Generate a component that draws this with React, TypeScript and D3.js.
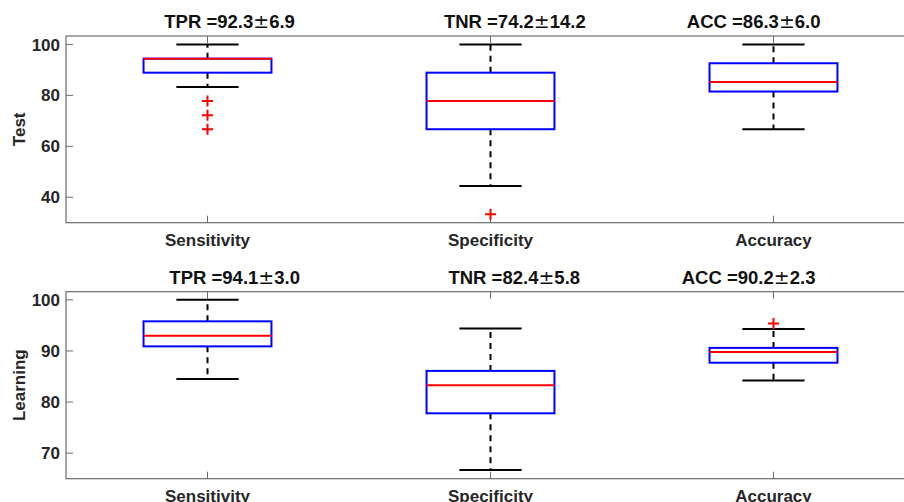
import { useEffect, useRef } from 'react';
import * as d3 from 'd3';

// categories on the x axis
const categories = ['Sensitivity', 'Specificity', 'Accuracy'];

// panel titles (per category)
const testTitles = ['TPR =92.3\u00B16.9', 'TNR =74.2\u00B114.2', 'ACC =86.3\u00B16.0'];
const learningTitles = ['TPR =94.1\u00B13.0', 'TNR =82.4\u00B15.8', 'ACC =90.2\u00B12.3'];
// title centres in x units (they are not exactly over the boxes)
const testTitleX = [1.078, 2.086, 2.93];
const learningTitleX = [1.096, 2.084, 2.912];

// Test box stats
const testLower = [83.3, 44.4, 66.7];
const testQ1 = [88.9, 66.7, 81.5];
const testMedian = [94.4, 77.8, 85.2];
const testQ3 = [94.4, 88.9, 92.6];
const testUpper = [100, 100, 100];
const testOutliers = [[77.8, 72.2, 66.7], [33.3], []];

// Learning box stats
const learningLower = [84.5, 66.7, 84.2];
const learningQ1 = [90.9, 77.8, 87.7];
const learningMedian = [93.0, 83.3, 89.8];
const learningQ3 = [95.8, 86.1, 90.6];
const learningUpper = [100, 94.4, 94.3];
const learningOutliers = [[], [], [95.4]];

const testTicks = [40, 60, 80, 100];
const learningTicks = [70, 80, 90, 100];

const FONT = '"Liberation Sans", Arial, Helvetica, sans-serif';

interface Panel {
  label: string;
  titles: string[];
  titleX: number[];
  lower: number[];
  q1: number[];
  median: number[];
  q3: number[];
  upper: number[];
  outliers: number[][];
  ticks: number[];
  domain: [number, number];
  top: number;
  bottom: number;
}

const panels: Panel[] = [
  {
    label: 'Test', titles: testTitles, titleX: testTitleX,
    lower: testLower, q1: testQ1, median: testMedian, q3: testQ3, upper: testUpper,
    outliers: testOutliers, ticks: testTicks, domain: [30, 103.3], top: 36, bottom: 222.7,
  },
  {
    label: 'Learning', titles: learningTitles, titleX: learningTitleX,
    lower: learningLower, q1: learningQ1, median: learningMedian, q3: learningQ3, upper: learningUpper,
    outliers: learningOutliers, ticks: learningTicks, domain: [65, 101.6], top: 291.7, bottom: 478.7,
  },
];

export default function App() {
  const svgRef = useRef<SVGSVGElement>(null);
  const width = 904;
  const height = 502;

  useEffect(() => {
    if (!svgRef.current) return;
    const svg = d3.select(svgRef.current);
    svg.selectAll('*').remove();

    const left = 66;
    const right = 915;
    const x = d3.scaleLinear().domain([0.5, 3.5]).range([left, right]);
    const boxHalf = 0.226;
    const capHalf = 0.11;
    const axisColor = '#6b6b6b';

    panels.forEach((p) => {
      const y = d3.scaleLinear().domain(p.domain).range([p.bottom, p.top]);
      const g = svg.append('g');

      // axes frame (right side falls outside the picture)
      g.append('rect')
        .attr('x', left).attr('y', p.top)
        .attr('width', right - left).attr('height', p.bottom - p.top)
        .attr('fill', 'white').attr('stroke', axisColor).attr('stroke-width', 1.2);

      // y ticks pointing in
      p.ticks.forEach((t) => {
        g.append('line')
          .attr('x1', left).attr('x2', left + 7)
          .attr('y1', y(t)).attr('y2', y(t))
          .attr('stroke', axisColor).attr('stroke-width', 1);
        g.append('text')
          .attr('x', left - 6).attr('y', y(t))
          .attr('dy', '0.36em')
          .attr('text-anchor', 'end')
          .attr('font-family', FONT).attr('font-weight', 'bold').attr('font-size', 17)
          .attr('fill', '#262626')
          .text(t);
      });

      // x ticks, top and bottom
      categories.forEach((c, i) => {
        const cx = x(i + 1);
        g.append('line').attr('x1', cx).attr('x2', cx)
          .attr('y1', p.bottom).attr('y2', p.bottom - 7)
          .attr('stroke', axisColor).attr('stroke-width', 1);
        g.append('line').attr('x1', cx).attr('x2', cx)
          .attr('y1', p.top).attr('y2', p.top + 7)
          .attr('stroke', axisColor).attr('stroke-width', 1);
        g.append('text')
          .attr('x', cx).attr('y', p.bottom + 23)
          .attr('text-anchor', 'middle')
          .attr('font-family', FONT).attr('font-weight', 'bold').attr('font-size', 17)
          .attr('fill', '#262626')
          .text(c);
      });

      // boxes
      categories.forEach((_, i) => {
        const cx = x(i + 1);
        const bx0 = x(i + 1 - boxHalf);
        const bx1 = x(i + 1 + boxHalf);
        const cx0 = x(i + 1 - capHalf);
        const cx1 = x(i + 1 + capHalf);

        // whiskers
        [[p.q3[i], p.upper[i]], [p.q1[i], p.lower[i]]].forEach(([a, b]) => {
          g.append('line')
            .attr('x1', cx).attr('x2', cx)
            .attr('y1', y(a)).attr('y2', y(b))
            .attr('stroke', 'black').attr('stroke-width', 2)
            .attr('stroke-dasharray', '6,5');
        });
        // caps
        [p.upper[i], p.lower[i]].forEach((v) => {
          g.append('line')
            .attr('x1', cx0).attr('x2', cx1)
            .attr('y1', y(v)).attr('y2', y(v))
            .attr('stroke', 'black').attr('stroke-width', 2);
        });
        // box
        g.append('rect')
          .attr('x', bx0).attr('y', y(p.q3[i]))
          .attr('width', bx1 - bx0).attr('height', y(p.q1[i]) - y(p.q3[i]))
          .attr('fill', 'none').attr('stroke', '#0000ff').attr('stroke-width', 2);
        // median
        g.append('line')
          .attr('x1', bx0).attr('x2', bx1)
          .attr('y1', y(p.median[i])).attr('y2', y(p.median[i]))
          .attr('stroke', '#ff0000').attr('stroke-width', 2);
        // outliers
        p.outliers[i].forEach((v) => {
          const oy = y(v);
          g.append('path')
            .attr('d', `M${cx - 5.5},${oy}H${cx + 5.5}M${cx},${oy - 5.5}V${oy + 5.5}`)
            .attr('stroke', '#ff0000').attr('stroke-width', 2).attr('fill', 'none');
        });

        // title above, with a thin plus-minus like the TeX \pm
        const [before, after] = p.titles[i].split('\u00B1');
        const t = g.append('text')
          .attr('x', x(p.titleX[i])).attr('y', p.top - 8)
          .attr('text-anchor', 'middle')
          .attr('font-family', FONT).attr('font-weight', 'bold').attr('font-size', 18.5)
          .attr('fill', '#111');
        t.append('tspan').text(before);
        t.append('tspan').attr('font-weight', 'normal').attr('font-family', '"DejaVu Sans", sans-serif')
          .attr('font-size', 19).text('\u00B1');
        t.append('tspan').text(after);
      });

      // y label
      g.append('text')
        .attr('transform', `translate(25,${(p.top + p.bottom) / 2}) rotate(-90)`)
        .attr('text-anchor', 'middle')
        .attr('font-family', FONT).attr('font-weight', 'bold').attr('font-size', 17)
        .attr('fill', '#262626')
        .text(p.label);
    });
  }, []);

  return (
    <div style={{ position: 'absolute', left: 0, top: 0, background: 'white' }}>
      <svg ref={svgRef} width={width} height={height} style={{ display: 'block' }} />
    </div>
  );
}
